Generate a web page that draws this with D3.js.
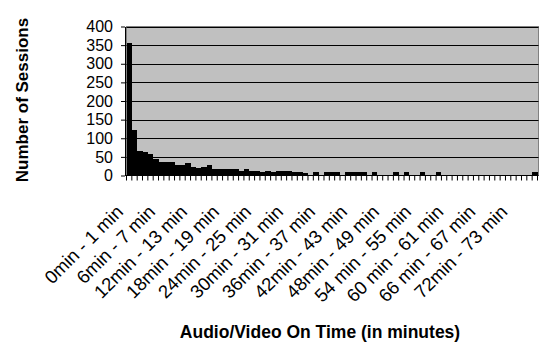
<!DOCTYPE html>
<html>
<head>
<meta charset="utf-8">
<script src="https://cdn.jsdelivr.net/npm/d3@7"></script>
<style>
  body { margin:0; background:#fff; }
  text { font-family: "Liberation Sans", Arial, sans-serif; }
</style>
</head>
<body>
<div id="chart"></div>
<script>
// one bar per minute bin, 0min - 1 min ... 76min - 77 min
const categories = [
  "0min - 1 min","1min - 2 min","2min - 3 min","3min - 4 min","4min - 5 min","5min - 6 min",
  "6min - 7 min","7min - 8 min","8min - 9 min","9min - 10 min","10min - 11 min","11min - 12 min",
  "12min - 13 min","13min - 14 min","14min - 15 min","15min - 16 min","16min - 17 min","17min - 18 min",
  "18min - 19 min","19min - 20 min","20min - 21 min","21min - 22 min","22min - 23 min","23min - 24 min",
  "24min - 25 min","25min - 26 min","26min - 27 min","27min - 28 min","28min - 29 min","29min - 30 min",
  "30min - 31 min","31min - 32 min","32min - 33 min","33min - 34 min","34min - 35 min","35min - 36 min",
  "36min - 37 min","37min - 38 min","38min - 39 min","39min - 40 min","40min - 41 min","41min - 42 min",
  "42min - 43 min","43min - 44 min","44min - 45 min","45min - 46 min","46min - 47 min","47min - 48 min",
  "48min - 49 min","49min - 50 min","50min - 51 min","51min - 52 min","52min - 53 min","53min - 54 min",
  "54 min - 55 min","55 min - 56 min","56 min - 57 min","57 min - 58 min","58 min - 59 min","59 min - 60 min",
  "60 min - 61 min","61 min - 62 min","62 min - 63 min","63 min - 64 min","64 min - 65 min","65 min - 66 min",
  "66 min - 67 min","67 min - 68 min","68 min - 69 min","69 min - 70 min","70 min - 71 min","71 min - 72 min",
  "72min - 73 min","73min - 74 min","74min - 75 min","75min - 76 min","76min - 77 min"
]
const sessions = [
  355,122,65,62,57,44,37,37,37,28,28,33,22,20,23,28,17,17,17,17,
  17,13,17,12,12,10,12,10,12,12,12,10,10,8,0,10,0,10,10,10,
  0,10,10,10,10,0,10,0,0,0,10,0,10,0,0,10,0,0,10,0,
  0,0,0,0,0,0,0,0,0,0,0,0,0,0,0,0,10
]
const shownLabels = ["0min - 1 min","6min - 7 min","12min - 13 min","18min - 19 min","24min - 25 min",
  "30min - 31 min","36min - 37 min","42min - 43 min","48min - 49 min","54 min - 55 min",
  "60 min - 61 min","66 min - 67 min","72min - 73 min"]
const yTicks = [0,50,100,150,200,250,300,350,400]

const W = 541, H = 345
const plot = {left:126.5, right:537.5, top:26.5, bottom:175.5}

const x = d3.scaleBand().domain(categories).range([plot.left, plot.right]).padding(0)
const y = d3.scaleLinear().domain([0,400]).range([plot.bottom, plot.top])

const svg = d3.select("#chart")
  .append("svg")
    .attr("width", W)
    .attr("height", H)

// plot area
svg.append("rect")
  .attr("x", plot.left)
  .attr("y", plot.top)
  .attr("width", plot.right - plot.left + 1)
  .attr("height", plot.bottom - plot.top)
  .attr("fill", "#c0c0c0")
  .attr("stroke", "#808080")
  .attr("stroke-width", 1)

// gridlines
svg.selectAll(null)
  .data(yTicks.filter(d => d > 0))
  .enter()
  .append("line")
  .attr("x1", plot.left)
  .attr("x2", plot.right + 1)
  .attr("y1", d => Math.round(y(d)) + 0.5)
  .attr("y2", d => Math.round(y(d)) + 0.5)
  .style("stroke", "black")
  .style("stroke-width", 1)

// bars
svg.selectAll(null)
  .data(categories)
  .enter()
  .append("rect")
  .attr("x", d => x(d))
  .attr("width", x.bandwidth())
  .attr("y", (d,i) => y(sessions[i]))
  .attr("height", (d,i) => y(0) - y(sessions[i]))
  .attr("fill", "black")
  .attr("shape-rendering", "crispEdges")

//y axis
svg.append("g")
  .attr("transform", "translate(125,0)")
  .call(d3.axisLeft(y)
    .tickValues(yTicks)
    .tickSize(4)
    .tickSizeOuter(0)
    .tickPadding(8))
  .call(g => g.selectAll("text").style("font-size", "16px").attr("fill", "black"))
  .call(g => g.selectAll("line,path").attr("stroke", "black"))

//x axis line + ticks between categories
svg.append("line")
  .attr("x1", plot.left - 1)
  .attr("x2", plot.right + 1)
  .attr("y1", plot.bottom)
  .attr("y2", plot.bottom)
  .style("stroke", "black")

svg.selectAll(null)
  .data(categories.concat(["end"]))
  .enter()
  .append("line")
  .attr("x1", d => d === "end" ? plot.right : x(d))
  .attr("x2", d => d === "end" ? plot.right : x(d))
  .attr("y1", plot.bottom)
  .attr("y2", plot.bottom + 5)
  .style("stroke", "black")

svg.selectAll(null)
  .data(shownLabels)
  .enter()
  .append("text")
  .attr("transform", d => "translate(" + (x(d) + x.bandwidth()/2 - 5) + ",213) rotate(-45)")
  .attr("text-anchor", "end")
  .style("font-size", "18.5px")
  .text(d => d)

// titles
svg.append("text")
  .attr("x", 320)
  .attr("y", 338)
  .attr("text-anchor", "middle")
  .style("font-size", "17.5px")
  .style("font-weight", "bold")
  .text("Audio/Video On Time (in minutes)")

svg.append("text")
  .attr("transform", "translate(28,100) rotate(-90)")
  .attr("text-anchor", "middle")
  .style("font-size", "17px")
  .style("font-weight", "bold")
  .text("Number of Sessions")
</script>
</body>
</html>
